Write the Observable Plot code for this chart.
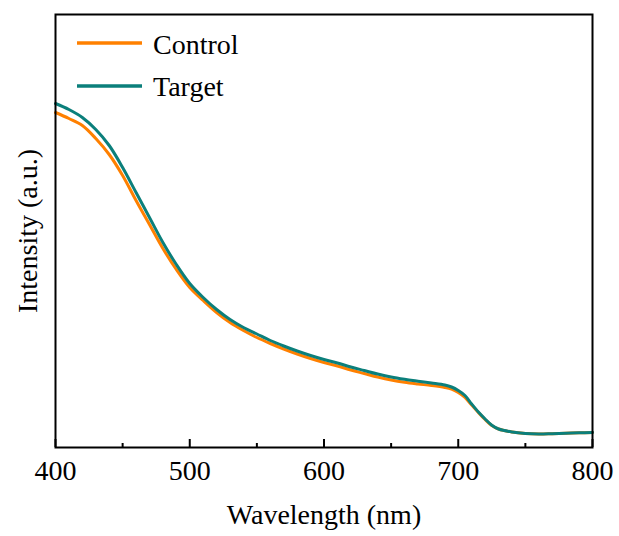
<!DOCTYPE html>
<html><head><meta charset="utf-8">
<script src="https://cdn.jsdelivr.net/npm/d3@7"></script>
<script src="https://cdn.jsdelivr.net/npm/@observablehq/plot@0.6"></script>
<style>
body{margin:0;background:#fff;}
#wrap{position:relative;width:619px;height:536px;}
</style></head><body><div id="wrap"></div>
<script>
const wavelength = [400,410,420,430,440,450,460,470,480,490,500,510,520,530,540,550,560,570,580,590,600,610,620,630,640,650,660,670,680,690,695,700,705,710,715,720,725,730,740,750,760,770,780,790,800];
const control = [3.35,3.29,3.22,3.09,2.93,2.72,2.47,2.23,1.99,1.78,1.60,1.47,1.35,1.25,1.17,1.10,1.04,0.985,0.935,0.89,0.85,0.815,0.775,0.74,0.705,0.675,0.652,0.635,0.62,0.60,0.583,0.55,0.50,0.425,0.35,0.28,0.22,0.185,0.155,0.14,0.135,0.138,0.142,0.147,0.15];
const target = [3.44,3.38,3.30,3.18,3.02,2.80,2.55,2.30,2.05,1.83,1.64,1.50,1.38,1.28,1.20,1.135,1.07,1.015,0.965,0.92,0.88,0.845,0.805,0.77,0.735,0.705,0.682,0.663,0.645,0.625,0.605,0.57,0.52,0.435,0.355,0.285,0.222,0.185,0.155,0.14,0.135,0.138,0.142,0.147,0.15];
const seriesNames = ["Control","Target"];
const seriesColors = ["#FF8000","#0B7F7B"];
const majorTicks = [400,500,600,700,800];
const minorTicks = [450,550,650,750];
const xLabel = "Wavelength (nm)";
const yLabel = "Intensity (a.u.)";

const rows = [];
wavelength.forEach((w,i)=>{
  rows.push({w, v: control[i], s: seriesNames[0]});
});
wavelength.forEach((w,i)=>{
  rows.push({w, v: target[i], s: seriesNames[1]});
});

const W=619,H=536,mt=14,mb=89,ml=55,mr=27;
const frameH = H-mt-mb;
const font = "'Liberation Serif','Times New Roman',serif";

const chart = Plot.plot({
  width: W, height: H,
  marginTop: mt, marginBottom: mb, marginLeft: ml, marginRight: mr,
  style: {fontFamily: font, fontSize: "28px", color: "black", background: "white"},
  x: {domain: [400, 800]},
  y: {domain: [0, 4.33], axis: null},
  color: {domain: seriesNames, range: seriesColors},
  marks: [
    Plot.line(rows, {x: "w", y: "v", stroke: "s", z: "s", strokeWidth: 3, curve: "catmull-rom"}),
    Plot.tickX(majorTicks, {x: d => d, insetTop: frameH - 8, stroke: "black", strokeWidth: 2}),
    Plot.tickX(minorTicks, {x: d => d, insetTop: frameH - 4, stroke: "black", strokeWidth: 2}),
    Plot.axisX({ticks: majorTicks, tickSize: 0, tickPadding: 13, fontSize: 28, fontFamily: font, fill: "black", label: null, tickFormat: d => String(d)}),
    Plot.text([xLabel], {text: d => d, frameAnchor: "bottom", dy: 68, lineAnchor: "middle", textAnchor: "middle", fontSize: 28, fontFamily: font, fill: "black"}),
    Plot.text([yLabel], {text: d => d, frameAnchor: "left", dx: -27, rotate: -90, lineAnchor: "middle", textAnchor: "middle", fontSize: 28, fontFamily: font, fill: "black"}),
    Plot.frame({stroke: "black", strokeWidth: 2})
  ]
});

// legend inside the plot
const svg = d3.select(chart);
const lg = svg.append("g").attr("text-anchor", "start");
seriesNames.forEach((name, i) => {
  lg.append("line").attr("x1", 77).attr("x2", 142).attr("y1", 43 + i*43).attr("y2", 43 + i*43)
    .attr("stroke", seriesColors[i]).attr("stroke-width", 3.5);
  lg.append("text").attr("x", 153).attr("y", 54 + i*42).text(name)
    .attr("text-anchor", "start")
    .attr("font-family", font).attr("font-size", 28).attr("fill", "black");
});

document.getElementById("wrap").appendChild(chart);
</script>
</body></html>
